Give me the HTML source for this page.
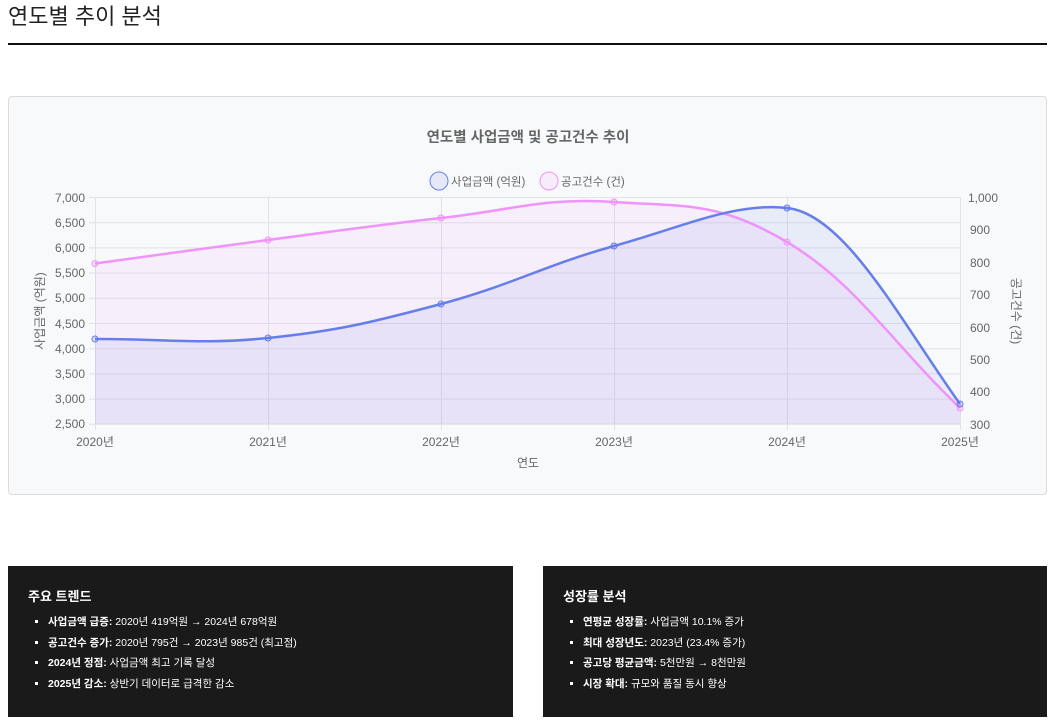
<!DOCTYPE html>
<html><head><meta charset="utf-8"><style>
body{margin:0;background:#fff;font-family:"Liberation Sans","Noto Sans CJK KR",sans-serif;width:1055px;height:722px;overflow:hidden;position:relative}
h1{position:absolute;left:8px;top:0;margin:0;font-size:22px;font-weight:normal;color:#222;line-height:34px}
.rule{position:absolute;left:8px;top:43px;width:1039px;height:2px;background:#111}
.card{position:absolute;left:8px;top:96px;width:1037px;height:397px;background:#f8f9fa;border:1px solid #dcdcdc;border-radius:4px}
svg{position:absolute;left:0;top:0}
.box{position:absolute;top:566px;height:151px;background:#1a1a1a;color:#fff}
.box h3{margin:0;position:absolute;left:20px;top:20px;font-size:13px;font-weight:bold}
.box ul{position:absolute;left:20px;top:46px;margin:0;padding-left:20px;font-size:10.5px;line-height:20.5px}
.box li{list-style:square}
</style></head><body>
<h1>연도별 추이 분석</h1>
<div class="rule"></div>
<div class="card"></div>
<svg width="1055" height="500" font-family="Liberation Sans, Noto Sans CJK KR, sans-serif">
<text x="528" y="142" text-anchor="middle" font-size="14.5" font-weight="bold" fill="#666">연도별 사업금액 및 공고건수 추이</text>
<circle cx="439" cy="181" r="9" fill="rgba(102,126,234,0.12)" stroke="#667eea" stroke-width="1"/>
<text x="451" y="185.5" font-size="11.5" fill="#666">사업금액 (억원)</text>
<circle cx="549" cy="181" r="9" fill="rgba(240,147,251,0.12)" stroke="#f093fb" stroke-width="1"/>
<text x="561" y="185.5" font-size="11.5" fill="#666">공고건수 (건)</text>
<g stroke="#e1e1e6" stroke-width="1">
<line x1="89" y1="197.5" x2="960" y2="197.5"/><line x1="89" y1="222.7" x2="960" y2="222.7"/><line x1="89" y1="247.9" x2="960" y2="247.9"/><line x1="89" y1="273.1" x2="960" y2="273.1"/><line x1="89" y1="298.3" x2="960" y2="298.3"/><line x1="89" y1="323.5" x2="960" y2="323.5"/><line x1="89" y1="348.7" x2="960" y2="348.7"/><line x1="89" y1="373.9" x2="960" y2="373.9"/><line x1="89" y1="399.1" x2="960" y2="399.1"/><line x1="89" y1="424.3" x2="960" y2="424.3"/>
<line x1="95.5" y1="197" x2="95.5" y2="430"/><line x1="268.5" y1="197" x2="268.5" y2="430"/><line x1="441.5" y1="197" x2="441.5" y2="430"/><line x1="614.5" y1="197" x2="614.5" y2="430"/><line x1="787.5" y1="197" x2="787.5" y2="430"/><line x1="960.5" y1="197" x2="960.5" y2="430"/>
</g>
<path d="M95,263.5 C164.2,254.1 198.8,249.1 268,240 C337.2,230.9 371.8,225.6 441,218 C510.2,210.4 544.8,197.2 614,202 C683.2,206.8 717.8,200.8 787,242 C856.2,283.2 890.8,341.6 960,408 L960,424 L95,424 Z" fill="rgba(240,147,251,0.1)"/>
<path d="M95,339 C164.2,338.6 198.8,345 268,338 C337.2,331 371.8,322.4 441,304 C510.2,285.6 544.8,265.2 614,246 C683.2,226.8 735,202 787,208 C845,214 900,320 960,404 L960,424 L95,424 Z" fill="rgba(102,126,234,0.1)"/>
<path d="M95,263.5 C164.2,254.1 198.8,249.1 268,240 C337.2,230.9 371.8,225.6 441,218 C510.2,210.4 544.8,197.2 614,202 C683.2,206.8 717.8,200.8 787,242 C856.2,283.2 890.8,341.6 960,408" fill="none" stroke="#f093fb" stroke-width="2.5"/>
<path d="M95,339 C164.2,338.6 198.8,345 268,338 C337.2,331 371.8,322.4 441,304 C510.2,285.6 544.8,265.2 614,246 C683.2,226.8 735,202 787,208 C845,214 900,320 960,404" fill="none" stroke="#667eea" stroke-width="2.5"/>
<g fill="rgba(240,147,251,0.2)" stroke="#f093fb"><circle cx="95" cy="263.5" r="3"/><circle cx="268" cy="240" r="3"/><circle cx="441" cy="218" r="3"/><circle cx="614" cy="202" r="3"/><circle cx="787" cy="242" r="3"/><circle cx="960" cy="408" r="3"/></g>
<g fill="rgba(102,126,234,0.2)" stroke="#667eea"><circle cx="95" cy="339" r="3"/><circle cx="268" cy="338" r="3"/><circle cx="441" cy="304" r="3"/><circle cx="614" cy="246" r="3"/><circle cx="787" cy="208" r="3"/><circle cx="960" cy="404" r="3"/></g>
<g font-size="12" fill="#666" text-anchor="end">
<text x="85" y="202">7,000</text><text x="85" y="227">6,500</text><text x="85" y="252">6,000</text><text x="85" y="277">5,500</text><text x="85" y="302">5,000</text><text x="85" y="328">4,500</text><text x="85" y="353">4,000</text><text x="85" y="378">3,500</text><text x="85" y="403">3,000</text><text x="85" y="428">2,500</text>
</g>
<g font-size="12" fill="#666">
<text x="968" y="202">1,000</text><text x="970" y="234">900</text><text x="970" y="267">800</text><text x="970" y="299">700</text><text x="970" y="332">600</text><text x="970" y="364">500</text><text x="970" y="396">400</text><text x="970" y="429">300</text>
</g>
<g font-size="12" fill="#666" text-anchor="middle">
<text x="95" y="446">2020년</text><text x="268" y="446">2021년</text><text x="441" y="446">2022년</text><text x="614" y="446">2023년</text><text x="787" y="446">2024년</text><text x="960" y="446">2025년</text>
<text x="528" y="467">연도</text>
<text transform="translate(44,311) rotate(-90)">사업금액 (억원)</text>
<text transform="translate(1012,311) rotate(90)">공고건수 (건)</text>
</g>
</svg>
<div class="box" style="left:8px;width:505px"><h3>주요 트렌드</h3><ul>
<li><b>사업금액 급증:</b> 2020년 419억원 → 2024년 678억원</li>
<li><b>공고건수 증가:</b> 2020년 795건 → 2023년 985건 (최고점)</li>
<li><b>2024년 정점:</b> 사업금액 최고 기록 달성</li>
<li><b>2025년 감소:</b> 상반기 데이터로 급격한 감소</li></ul></div>
<div class="box" style="left:543px;width:504px"><h3>성장률 분석</h3><ul>
<li><b>연평균 성장률:</b> 사업금액 10.1% 증가</li>
<li><b>최대 성장년도:</b> 2023년 (23.4% 증가)</li>
<li><b>공고당 평균금액:</b> 5천만원 → 8천만원</li>
<li><b>시장 확대:</b> 규모와 품질 동시 향상</li></ul></div>
</body></html>
